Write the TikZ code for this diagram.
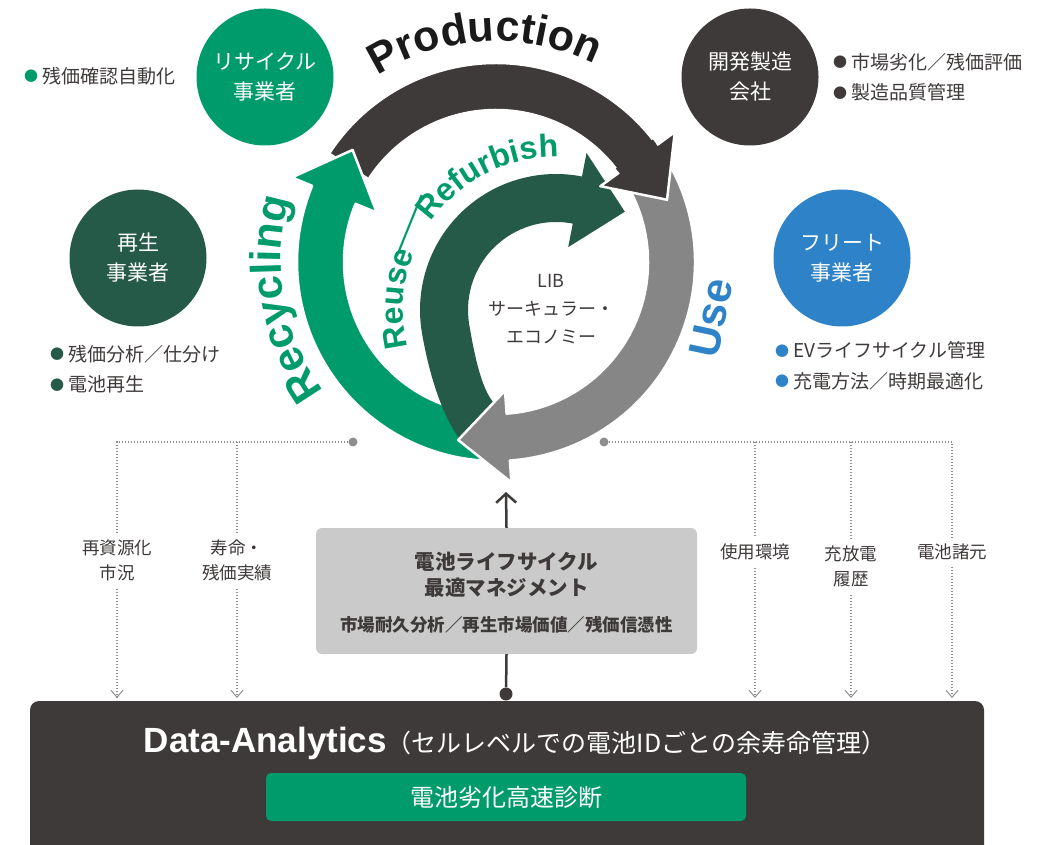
\documentclass[tikz,border=0pt]{standalone}
\usepackage{fontspec}
\usepackage{tikz}
\usetikzlibrary{arrows.meta,calc,positioning,decorations.text}
\setmainfont{Liberation Sans}
\newfontfamily\jp{Noto Sans CJK JP}
\newfontfamily\lat{Liberation Sans}
\newcommand{\fsz}[2]{\fontsize{#1}{#2}\selectfont}
\newcommand{\dotmark}[1]{{\color{#1}\raisebox{1.5pt}{\fsz{14}{14}●}}\kern4pt}
\definecolor{proddark}{HTML}{3E3A39}
\definecolor{prodtext}{HTML}{1A1A1A}
\definecolor{recgreen}{HTML}{009B6B}
\definecolor{reusegreen}{HTML}{265A48}
\definecolor{usegrey}{HTML}{868686}
\definecolor{fleetblue}{HTML}{2E82C8}
\definecolor{boxgrey}{HTML}{C9CAC9}
\definecolor{dotgrey}{HTML}{8E8E8E}
\definecolor{inkgrey}{HTML}{3E3A39}
% one arrow of the outer ring: #1 style, #2 tail, #3 back of head, #4 tip (angles)
\newcommand{\ringarrow}[4]{%
  \path[#1] ($(C)+(#2:199pt)$) arc[start angle=#2, end angle=#3, radius=199pt]
    -- ($(C)+(#3:221pt)$) -- ($(C)+(#4:182pt)$) -- ($(C)+(#3:129pt)$)
    -- ($(C)+(#3:152pt)$) arc[start angle=#3, end angle=#2, radius=152pt] -- cycle;}
\tikzset{
  ring edge/.style = {draw=white, line width=2.5pt, line join=round},
  actor/.style     = {circle, minimum size=137pt, inner sep=0pt, text=white,
                      align=center, font=\jp\fsz{21}{30}},
  note/.style      = {anchor=west, inner sep=0pt, align=left, text=inkgrey,
                      font=\jp\fsz{19}{30.5}},
  feed/.style      = {dotgrey, line width=1.3pt, dash pattern=on 1.3pt off 1.7pt,
                      -{Straight Barb[length=7pt, width=12pt, line width=1pt]}},
  feed label/.style = {fill=white, inner sep=6pt, align=center, text=inkgrey,
                       font=\jp\fsz{17.5}{25}},
  feed dot/.style  = {circle, fill=dotgrey, inner sep=0pt, minimum size=9pt},
  mgmt box/.style  = {fill=boxgrey, rounded corners=6pt, minimum width=381pt,
                      minimum height=126pt, inner sep=0pt},
  flow/.style      = {inkgrey, line width=2.5pt},
  hub/.style       = {circle, fill=inkgrey, inner sep=0pt, minimum size=13pt},
  analytics box/.style = {fill=proddark, rounded corners=9pt, minimum width=954pt,
                          minimum height=160pt, inner sep=0pt},
  diag box/.style  = {fill=recgreen, rounded corners=5pt, minimum width=480pt,
                      minimum height=48pt, text=white, font=\jp\fsz{24}{24}},
}

\begin{document}
\begin{tikzpicture}[x=1pt, y=1pt]
  \useasboundingbox (0,0) rectangle (1056,844);
  \coordinate (C) at (496,582);
  \coordinate (Ci) at (556,534);

  % cycle
  \ringarrow{fill=proddark, ring edge}{147}{36}{20}
  \ringarrow{fill=recgreen, ring edge}{266}{157.5}{142}
  \fill[reusegreen] ($(Ci)+(79:136pt)$) arc[start angle=79, end angle=190, radius=136pt]
    .. controls (428,476) and (440,432) .. (459,406) -- (503,424) -- (497,438)
    .. controls (482,450) and (474.5,489) .. ($(Ci)+(190:88pt)$)
    arc[start angle=190, end angle=79, radius=88pt]
    -- ($(Ci)+(79:64pt)$) -- ($(Ci)+(55:120pt)$) -- ($(Ci)+(79:160pt)$) -- cycle;
  \ringarrow{fill=usegrey, ring edge}{30}{-86}{-102}
  \fill[proddark] ($(C)+(38:199pt)$) arc[start angle=38, end angle=36, radius=199pt]
    -- ($(C)+(36:221pt)$) -- ($(C)+(20:182pt)$) -- ($(C)+(36:129pt)$)
    -- ($(C)+(36:152pt)$) arc[start angle=36, end angle=38, radius=152pt] -- cycle;
  \draw[ring edge] ($(C)+(36:199pt)$) -- ($(C)+(36:221pt)$) -- ($(C)+(20:182pt)$)
    -- ($(C)+(36:129pt)$) -- ($(C)+(36:152pt)$);

  % ring labels
  \path[decorate, decoration={text along path, text align=center, text color=prodtext,
      text={|\lat\bfseries\fsz{43}{43}|Production}}]
    ($(C)+(126:221pt)$) arc[start angle=126, end angle=60, radius=221pt];
  \path[decorate, decoration={text along path, text align=center, text color=recgreen,
      text={|\lat\bfseries\fsz{43}{43}|Recycling}}]
    ($(C)+(220:215pt)$) arc[start angle=220, end angle=160, radius=215pt];
  \path[decorate, decoration={text along path, text align=center, text color=recgreen,
      text={|\lat\bfseries\fsz{32}{32}|Reuse}}]
    ($(Ci)+(196:153pt)$) arc[start angle=196, end angle=156, radius=153pt];
  \path[decorate, decoration={text along path, text align=center, text color=recgreen,
      text={|\lat\bfseries\fsz{32}{32}|Refurbish}}]
    ($(Ci)+(148:153pt)$) arc[start angle=148, end angle=86, radius=153pt];
  \node[recgreen, rotate=23, inner sep=0pt, font=\jp\fsz{52}{52}] (slash) at (410,618) {／};
  \node[fleetblue, rotate=78, inner sep=0pt, font=\lat\bfseries\fsz{43}{43}] (use) at (711,526) {Use};
  \node[inkgrey, align=center, font=\jp\fsz{18}{28}] (lib) at (551,535)
    {LIB\\サーキュラー・\\エコノミー};

  % actors
  \node[actor, fill=recgreen] (recycler) at (265,767) {リサイクル\\事業者};
  \node[actor, fill=reusegreen] (regen) at (138,586) {再生\\事業者};
  \node[actor, fill=proddark] (maker) at (750,767) {開発製造\\会社};
  \node[actor, fill=fleetblue] (fleet) at (842,586) {フリート\\事業者};
  \node[note] (recyclernote) at (24,768) {\dotmark{recgreen}残価確認自動化};
  \node[note] (regennote) at (50,475) {\dotmark{reusegreen}残価分析／仕分け\\\dotmark{reusegreen}電池再生};
  \node[note] (makernote) at (833,767) {\dotmark{proddark}市場劣化／残価評価\\\dotmark{proddark}製造品質管理};
  \node[note] (fleetnote) at (775,478) {\dotmark{fleetblue}EVライフサイクル管理\\\dotmark{fleetblue}充電方法／時期最適化};

  % data platform
  \node[analytics box] (analytics) at (507,63) {};
  \node[text=white, inner sep=0pt] (datitle) at (515,101)
    {{\lat\bfseries\fsz{35}{35}Data-Analytics}{\jp\fsz{25}{25}（セルレベルでの電池IDごとの余寿命管理）}};
  \node[diag box] (diag) at (506,47) {電池劣化高速診断};

  \node[mgmt box] (mgmt) at (506.5,253) {};
  \node[inkgrey, align=center, font=\jp\bfseries\fsz{20.5}{26}] (mgmttitle) at (506.5,269)
    {電池ライフサイクル\\最適マネジメント};
  \node[inkgrey, font=\jp\bfseries\fsz{17.5}{17.5}] (mgmtnote) at (506.5,219)
    {市場耐久分析／再生市場価値／残価信憑性};
  \node[hub] (hub) at (506,150) {};
  \coordinate (entry) at (506,352);
  \draw[flow] (hub) -- (mgmt.south);
  \draw[flow, -{Straight Barb[length=9pt, width=20pt]}] (mgmt.north) -- (entry);

  % feeds into the analytics
  \node[feed dot] (ldot) at (353,402) {};
  \node[feed dot] (rdot) at (604,402) {};
  \coordinate (f1) at (117,146);
  \coordinate (f2) at (237,146);
  \coordinate (f3) at (755,146);
  \coordinate (f4) at (851,146);
  \coordinate (f5) at (952,146);
  \draw[feed] (ldot) -| (f1);
  \draw[feed] (f2 |- ldot) -- (f2);
  \draw[feed] (rdot) -| (f5);
  \draw[feed] (f3 |- rdot) -- (f3);
  \draw[feed] (f4 |- rdot) -- (f4);
  \node[feed label] (market) at (117,284) {再資源化\\市況};
  \node[feed label] (lifetime) at (237,284) {寿命・\\残価実績};
  \node[feed label] (usage) at (755,292) {使用環境};
  \node[feed label] (charge) at (851,278) {充放電\\履歴};
  \node[feed label] (spec) at (952,292) {電池諸元};
\end{tikzpicture}
\end{document}
